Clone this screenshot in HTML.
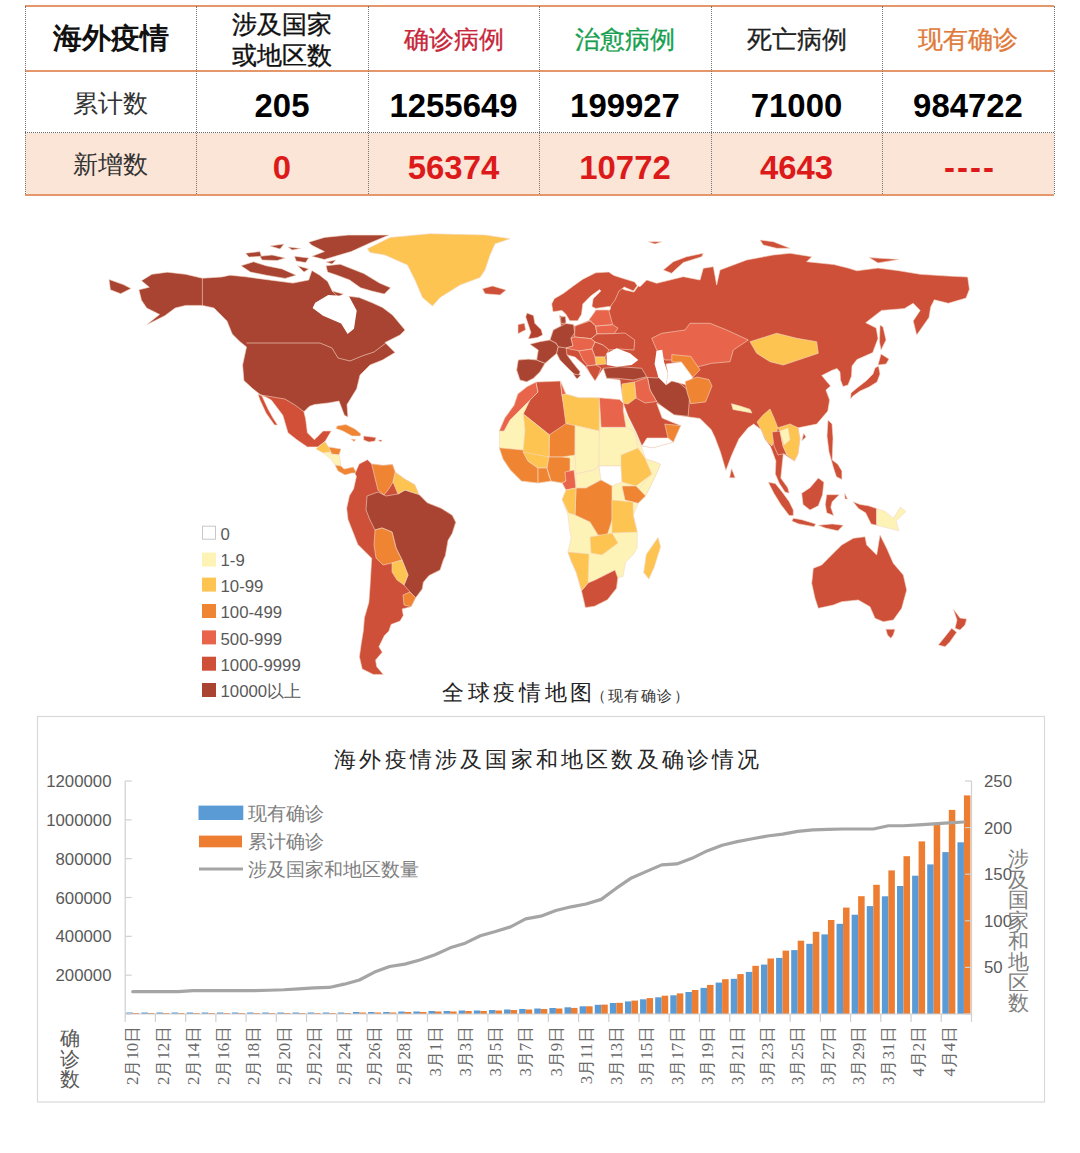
<!DOCTYPE html>
<html><head><meta charset="utf-8">
<style>
html,body{margin:0;padding:0;background:#fff;width:1080px;height:1153px;overflow:hidden;position:relative;font-family:"Liberation Sans",sans-serif;}
.a{position:absolute;}
.t{position:absolute;text-align:center;white-space:nowrap;line-height:1;}
.hl{position:absolute;left:25px;width:1029px;height:2px;background:#E3976B;}
.vl{position:absolute;top:6px;height:188px;width:0;border-left:1px dotted #777;}
.num{font-weight:bold;font-size:32.9px;}
.lab{font-size:24px;color:#333;}
</style></head><body>
<!-- TABLE -->
<div class="a" style="left:25px;top:133px;width:1029px;height:61px;background:#FBE5D7"></div>
<div class="hl" style="top:5px"></div>
<div class="hl" style="top:70px"></div>
<div class="hl" style="top:194px"></div>
<div class="a" style="left:25px;top:132px;width:1029px;height:0;border-top:1px dotted #666"></div>
<div class="vl" style="left:25px"></div>
<div class="vl" style="left:196px"></div>
<div class="vl" style="left:368px"></div>
<div class="vl" style="left:539px"></div>
<div class="vl" style="left:711px"></div>
<div class="vl" style="left:882px"></div>
<div class="vl" style="left:1054px"></div>

<div class="t" style="left:25px;width:171px;top:24px;font-size:29px;font-weight:bold;color:#111">海外疫情</div>
<div class="t" style="left:196px;width:172px;top:9px;font-size:24.5px;line-height:31px;color:#111;-webkit-text-stroke:0.35px #111">涉及国家<br>或地区数</div>
<div class="t" style="left:368px;width:171px;top:27.5px;font-size:24.5px;-webkit-text-stroke:0.3px currentColor;color:#C8263A">确诊病例</div>
<div class="t" style="left:539px;width:172px;top:27.5px;font-size:24.5px;-webkit-text-stroke:0.3px currentColor;color:#18A050">治愈病例</div>
<div class="t" style="left:711px;width:171px;top:27.5px;font-size:24.5px;-webkit-text-stroke:0.3px currentColor;color:#222">死亡病例</div>
<div class="t" style="left:882px;width:172px;top:27.5px;font-size:24.5px;-webkit-text-stroke:0.3px currentColor;color:#E07A3A">现有确诊</div>

<div class="t lab" style="left:25px;width:171px;top:90.5px;font-size:25px">累计数</div>
<div class="t lab" style="left:25px;width:171px;top:152px;font-size:25px">新增数</div>
<div class="t num" style="left:196px;width:172px;top:89.5px">205</div>
<div class="t num" style="left:368px;width:171px;top:89.5px">1255649</div>
<div class="t num" style="left:539px;width:172px;top:89.5px">199927</div>
<div class="t num" style="left:711px;width:171px;top:89.5px">71000</div>
<div class="t num" style="left:882px;width:172px;top:89.5px">984722</div>
<div class="t num" style="left:196px;width:172px;top:151.5px;color:#DD1A1A">0</div>
<div class="t num" style="left:368px;width:171px;top:151.5px;color:#DD1A1A">56374</div>
<div class="t num" style="left:539px;width:172px;top:151.5px;color:#DD1A1A">10772</div>
<div class="t num" style="left:711px;width:171px;top:151.5px;color:#DD1A1A">4643</div>
<div class="t num" style="left:882px;width:172px;top:151.5px;color:#DD1A1A;letter-spacing:2px;padding-left:2px">----</div>


<svg class="a" style="left:0;top:0" width="1080" height="1153" viewBox="0 0 1080 1153">
<g id="map" stroke="#F3D9C8" stroke-width="0.6" stroke-linejoin="round">
<!-- North America -->
<path fill="#A84431" d="M141.5,280.7 L151.9,274.3 L167.4,272.2 L185.6,274.3 L202.4,278.2 L221.9,276.9 L230,275.2 L245.7,276.8 L269.4,280 L293,283.1 L308.7,280 L311.9,270.5 L319.7,275.2 L327.6,281.5 L332.3,291 L340.2,297.3 L349,296.3 L359.3,297.6 L372.2,302.8 L382.5,307.5 L392.5,315 L405,330 L400,335 L385,342.5 L395,352.5 L382.5,360 L370,365 L360,375 L356.7,388.8 L347,404.6 L347.9,417 L344.4,415.2 L339,401.1 L328.5,402.9 L314.4,404.6 L309.2,406.4 L303.9,411.7 L260.8,395 L252.9,388.8 L243.9,380.6 L242.6,365 L246.5,346.9 L240,341.7 L232.2,333.9 L227,321 L214,308 L202.4,305.4 L185.6,305.4 L175.2,308 L164.8,315.7 L146.7,324.8 L159.6,314.4 L146.7,308 L141.5,300.2 L138.9,289.8 L149.3,287.2 Z"/>
<path fill="#A84431" d="M109,279.4 L123.3,284.6 L131,288.5 L120.7,293.7 L110.4,289.8 Z"/>
<path fill="#A84431" d="M241,265.8 L253.6,261.8 L266.2,265.8 L282,268.9 L296.1,275.2 L285.1,278.4 L266.2,275.2 L250.5,272.1 Z"/>
<path fill="#A84431" d="M245.7,253.2 L259.9,251.6 L261.5,256.3 L248.9,257.1 Z"/>
<path fill="#A84431" d="M259.9,256.3 L272,255 L285.1,257.9 L277.2,260.5 L262,260 Z"/>
<path fill="#A84431" d="M288.2,246.9 L300.8,248.5 L292,250 Z"/>
<path fill="#A84431" d="M294.5,256.3 L308.7,257.9 L305.6,262.6 L296.1,261 Z"/>
<path fill="#A84431" d="M297.7,265.8 L308.7,268.9 L304,272.1 Z"/>
<path fill="#A84431" d="M308.7,242.2 L324.4,237.4 L348.1,235.1 L389,235.1 L371.7,242.2 L351.2,251.6 L340.2,254.8 L324.4,259.5 L311.9,256.3 L324.4,251.6 L311.9,245.3 Z"/>
<path fill="#A84431" d="M326,265.8 L340.2,264.2 L363.8,273.6 L379.5,283.1 L390.6,287.8 L384.3,294.1 L371.7,291 L360.6,287.8 L349.6,279.9 L337,275.2 L327.6,272.1 Z"/>
<path fill="#A84431" d="M332.3,291 L343.3,294.1 L338,297 Z"/>
<path fill="#A84431" d="M270,246 L284,244 L280,249 Z"/>
<path fill="#A84431" d="M326,262 L336,260 L332,264 Z"/>
<path fill="none" stroke="#E6B9A6" stroke-width="0.8" d="M202.4,278 L202.4,305 M246.5,343 L320,343 L332,348 L338,358 L350,361 L362,356 L374,352 L386,343"/>
<path fill="#fff" stroke="none" d="M315.2,302.8 L328.2,295 L349,296.3 L356.7,310.6 L354,328.7 L347.6,333.9 L341.1,323.5 L323,315.7 L312.6,308 Z"/>
<!-- Mexico & Central America -->
<path fill="#D25038" d="M260.8,395 L285,399 L295,405 L303.9,411.7 L305.6,418.7 L307.4,432.8 L314.4,439.8 L323.2,431 L331.2,431 L325,441.6 L318,446.9 L307.4,446.9 L296.9,439.8 L288,432.8 L282.8,415.2 L271.3,400 L266,397 Z"/>
<path fill="#D25038" d="M262,396 L268,409 L273,418 L277.5,424.9 L274.5,425 L266,413 L260,400 L258,394 Z"/>
<path fill="#FDC451" d="M318,446.9 L325,441.6 L328.5,446.9 L331,452 L323.2,453 L316,449 Z"/>
<path fill="#EF8532" d="M328.5,446.9 L341,449 L339,455 L331,454 L331,452 Z"/>
<path fill="#FEF3B6" d="M331,452 L331,454 L339,455 L340,459 L341,466 L335,465 L331,459.2 L323.2,453 Z"/>
<path fill="#EF8532" d="M335,465 L341,466 L344,469 L353.2,467 L356.7,473 L352,473 L345,475 L338,471 Z"/>
<path fill="#EF8532" d="M337,426 L346,424.5 L355,429 L361,434 L360,436 L352,436 L343,431 L336,428.5 Z"/>
<path fill="#CF5038" d="M363.7,436 L376,437.5 L375,441 L369,442 L363.7,440 Z"/>
<path fill="#EF8532" d="M351,439 L356,439.5 L354,441.5 Z"/>
<path fill="#CF5038" d="M378,440 L382,440 L381,442 Z"/>
<!-- South America -->
<path fill="#CF5038" d="M355,473.6 L359.2,463.9 L367.5,459.7 L371.7,463.9 L382.8,465.3 L392.5,464.6 L395.3,472.2 L405,479.2 L414.7,484.7 L418.9,494.4 L427.2,502.8 L441.1,508.3 L452.2,515.3 L455.7,522.2 L452.2,533.3 L448,540.3 L445.3,555.6 L443.3,560 L440,570 L428.9,575.6 L423.3,582.2 L422.2,588.9 L415.6,597.8 L411.1,606.7 L402.2,608.9 L403.3,615.6 L400,621.1 L391.1,624.4 L388.9,631.1 L384.4,635.6 L378.9,646.7 L382.2,652.2 L375.6,660 L376.7,666.7 L383.3,674.4 L373.3,674.4 L362.2,668.9 L359.4,656.7 L361.1,644.4 L363.3,631.1 L364.4,617.8 L368.9,602.2 L370,586.7 L371.7,558.3 L357.8,544.4 L348,519.4 L346.7,508.3 L349.4,495.8 L353.6,488.9 L356.4,476.4 Z"/>
<path fill="#A84431" d="M367,496 L378,492 L386,496 L398,494 L405,490 L418.9,494.4 L427.2,502.8 L441.1,508.3 L452.2,515.3 L455.7,522.2 L452.2,533.3 L448,540.3 L445.3,555.6 L443.3,560 L440,570 L428.9,575.6 L423.3,582.2 L422.2,588.9 L415.6,597.8 L410,592 L404,585 L408,575 L402,560 L396,548 L392,532 L382,528 L375,530 L370,520 L366,510 Z"/>
<path fill="#EF8532" d="M371.7,463.9 L382.8,465.3 L392.5,464.6 L395.3,472.2 L393,482 L388,490 L384,495 L378,490 L375,478 Z"/>
<path fill="#FDC451" d="M395.3,472.2 L405,479.2 L414.7,484.7 L418.9,494.4 L405,490 L398,494 L393,482 Z"/>
<path fill="#EF8532" d="M375,530 L382,528 L392,532 L396,548 L402,560 L392,563 L383,565 L376,558 L374,545 Z"/>
<path fill="#FDC451" d="M392,563 L402,560 L408,575 L404,585 L397,580 L392,572 Z"/>
<path fill="#EF8532" d="M403,595 L410,592 L415.6,597.8 L411.1,606.7 L404,605 Z"/>
<!-- Eurasia -->
<path fill="#CF5038" d="M516.7,370 L518.3,360 L528.3,359.2 L536.7,360 L538.3,350 L530,344.2 L540,341.7 L550,340 L553.3,330 L561,326 L559.4,315.6 L564.6,316.9 L565.9,324.6 L575,326 L590,320 L589.3,319.4 L593.2,314.3 L596,310 L610,310 L613,295 L619,287 L625,290 L634,292 L638.3,286 L640,286.7 L646.7,280 L656.7,283.3 L670,280 L683.3,276.7 L700,280 L703.3,268.3 L713.3,266.7 L716.7,285 L720,270 L733.3,265 L746.7,260 L773.3,255 L790,253.3 L811.7,256.7 L806.7,261.7 L834,264.6 L848,268.1 L856.9,270.8 L878,268.1 L899.1,270.8 L920.2,274.3 L948.3,276.1 L967.7,277 L969.4,289.3 L966,298.1 L948.3,303.3 L934.3,299.8 L930.7,306.9 L929,317.4 L916.7,335 L913.2,320.9 L920.2,310.4 L913.2,303.3 L904.4,308.6 L881.5,310.4 L865.7,322.7 L876.2,328 L878,338.5 L872.7,352.6 L856.9,359.6 L852,366 L851.5,376 L848,385 L843,386.5 L840.5,380 L840,372 L837,368.5 L832.2,370.2 L821.7,375.5 L830.5,386 L825.9,390 L829.6,400 L827.8,411.1 L816.7,424.1 L798.1,427.8 L800,438.9 L798.1,453.7 L794.4,461.1 L783.3,453.7 L780.8,478 L787.8,487.8 L789.2,493.3 L785,492 L779.4,483.6 L775.3,473.9 L775.9,461.1 L770.4,446.3 L764.8,438.9 L761.1,429.6 L753.7,424.1 L748.1,427.8 L738.9,438.9 L731.5,455.6 L725.9,470.4 L720.4,451.9 L714.8,437 L711.1,429.6 L705.6,424.1 L700,418.5 L687,416.7 L674.1,414.8 L661.1,405.6 L656.7,403.3 L662.2,418.1 L671.5,421.9 L680.7,425.6 L673.3,442.2 L653,447.8 L641.9,445.9 L636,432 L628,416 L623.3,403.3 L622,394 L620,380 L606.7,378.3 L603.3,368.3 L600,373.3 L595,380 L590,373.3 L585,366 L575,357 L567,355 L573,363 L580,371.7 L578.3,376.7 L573.3,373.3 L566.7,366.7 L560,360 L556.7,353.3 L545,363.3 L540,371.7 L533.3,378.3 L526.7,381.7 L520,380 Z"/>
<path fill="#CF5038" d="M551.7,303.9 L554.3,298.7 L563.3,293.5 L573.7,285.7 L582.8,279.3 L595.7,272.8 L608.7,272.1 L613.9,275.4 L621.7,278 L634.6,281.9 L637.2,285.7 L633.3,290.9 L624.3,287 L619,291 L615,300 L610,307 L608.7,306.5 L595.7,308.4 L591.9,306.5 L593.2,298.7 L600.9,290.9 L599.6,289.6 L590.6,296.1 L582.8,303.9 L581.5,314.3 L577.6,320.7 L569.8,320.7 L565.9,314.3 L562,310.4 L553,311.7 Z"/>
<path fill="#A84431" d="M516.7,370 L518.3,360 L528.3,359.2 L536.7,360 L545,363.3 L540,371.7 L533.3,378.3 L526.7,381.7 L520,380 Z"/>
<path fill="#A84431" d="M536.7,360 L538.3,350 L530,344.2 L540,341.7 L550,340 L556,343 L558.3,346.7 L556.7,353.3 L545,363.3 Z"/>
<path fill="#A84431" d="M556.7,353.3 L558.3,346.7 L566,347 L567,355 L573,363 L580,371.7 L578.3,376.7 L573.3,373.3 L566.7,366.7 L560,360 Z"/>
<path fill="#A84431" d="M553.3,330 L561,326 L566,323.5 L573.6,324.4 L574.6,333 L571,338 L573,346 L566,348 L558.3,346.7 L556,343 L550,340 Z"/>
<path fill="#CF5038" d="M575,326 L590,321 L595.7,326 L597,334 L591,338.7 L574.6,337 L574.6,333 Z"/>
<path fill="#E8644A" d="M595.7,326 L612.6,324.6 L618,328 L614,334 L597,334 Z"/>
<path fill="#E8644A" d="M593.2,314.3 L596,310 L608.7,310 L612.6,324.6 L595.7,326 L589.3,319.4 Z"/>
<path fill="#CF5038" d="M597,334 L613,333.6 L625,333 L634.7,340 L634,350 L620,349 L609,350 L603,345 L595,342 L591,338.7 Z"/>
<path fill="#E8644A" d="M571,338 L574.6,337 L591,338.7 L595,342 L592,349 L580,351 L569.5,349 L566,348 L573,346 Z"/>
<path fill="#CF5038" d="M595,342 L603,345 L609,350 L605,357 L595,357 L592,349 Z"/>
<path fill="#FDC451" d="M595,357 L605,357 L606,364 L596,365 Z"/>
<path fill="#E8644A" d="M578.7,351 L592,349 L595,357 L596,365 L588,366 L583,360 Z"/>
<path fill="#CF5038" d="M586,366 L596,365 L601,368 L598,376 L595,381 L590,373.3 Z"/>
<path fill="#A84431" d="M560.5,317 L565.5,316.5 L566,323 L561,323.5 Z"/>
<path fill="#A84431" d="M573,374 L581,375 L577,379 Z"/>
<path fill="#A84431" d="M603.3,368.3 L620,366.7 L641.7,368.3 L646.7,376.7 L633.3,380 L616.7,378.3 L606.7,378.3 Z"/>
<path fill="#A84431" d="M647.4,377.4 L657,378 L665,376 L675.2,379.3 L690,392.2 L688.1,416.3 L674.1,414.8 L661.1,405.6 L656.7,401.5 L650,390 Z"/>
<path fill="#E8644A" d="M634.4,382 L647.4,377.4 L650,390 L656.7,401.5 L645,403 L636,398 Z"/>
<path fill="#FDC451" d="M622,394 L622,384 L634.4,382 L636,398 L628,404 L623.3,403.3 Z"/>
<path fill="#EF8532" d="M664.8,424.1 L680.7,425.6 L673.3,442.2 L668,438 Z"/>
<path fill="#FFFFFF" d="M641.9,445.9 L647,438 L668,438 L673.3,442.2 L653,447.8 Z"/>
<path fill="#E8644A" d="M651.7,338.3 L661.7,333.3 L685,330 L690,323.3 L710,323.3 L726.7,330 L748.3,340 L733.3,350 L730,361.7 L711.7,363.3 L698.3,366.7 L680,360 L665,360 L656.7,350 Z"/>
<path fill="#EF8532" d="M671.8,354.5 L690.8,356.4 L700,369.8 L692.7,377.4 L681.3,362 L671.8,362 Z"/>
<path fill="#fff" stroke="none" d="M606.7,353.3 L616.7,348.3 L630,353.3 L638.3,360 L631.7,365 L616.7,366.7 L606.7,365 Z"/>
<path fill="#fff" stroke="none" d="M656.5,350.7 L662.2,349.7 L664.1,362 L668,373.6 L666,385 L658.4,377.4 L654.6,364 Z"/>
<path fill="#FFFFFF" d="M666,364 L681.3,362 L692.7,377.4 L687,385 L671.8,381 L666,385 L668,373.6 Z"/>
<path fill="#FDC451" d="M750,341.7 L776.7,333.3 L796.7,338.3 L816.7,341.7 L818.3,353.3 L798.3,360 L783.3,365 L770,361.7 L756.7,353.3 Z"/>
<path fill="#EF8532" d="M685,381.5 L697,377 L709,379.6 L712,386 L705.6,401.9 L690.7,403.7 L687,392 Z"/>
<path fill="#FEF3B6" d="M731.5,403.7 L740,406 L750,409.3 L752,413 L733,409.5 Z"/>
<path fill="#FDC451" d="M757,422 L763,415 L770,409 L774,418 L777.8,427.8 L772,446 L766,440 L761.1,429.6 Z"/>
<path fill="#CF5038" d="M772,432 L780,431 L783,446 L787,455 L783.3,453.7 L778,455 L774,446 Z"/>
<path fill="#FDC451" d="M777.8,427.8 L790,424 L798.1,427.8 L800,438.9 L798.1,453.7 L794.4,461.1 L787,455 L783,446 L780,431 Z"/>
<path fill="#FEF3B6" d="M780,431 L788,428 L790,440 L784,445 Z"/>
<path fill="#CF5038" d="M803.7,433.3 L806,437 L801.9,440.7 Z"/>
<path fill="#CF5038" d="M881,354 L889,359 L886,364 L878,365 Z M878.5,366 L880,374 L877,382 L869,387 L860,391 L853,396 L850.5,399 L851,393 L857,388 L866,381 L873,374 L875,368 Z"/>
<path fill="#CF5038" d="M880,325 L883,327 L886,340 L881,350 L879.5,342 Z"/>
<path fill="#CF5038" d="M663.3,270 L673.3,261.7 L686.7,256.7 L703.3,253.3 L701.7,256.7 L683.3,262.5 L675,270 L671.7,273.3 Z"/>
<path fill="#CF5038" d="M760,240 L773.3,241.7 L781.7,245 L790,248.3 L776.7,248.3 L763.3,245 Z"/>
<path fill="#CF5038" d="M869.2,257.6 L899.1,259.4 L878,262.9 Z"/>
<path fill="#CF5038" d="M648.3,241.7 L661.7,241.7 L655,244 Z"/>
<path fill="#CF5038" d="M731.5,468.5 L735.2,477.8 L729.6,477.8 Z"/>
<path fill="#CF5038" d="M828,420 L832,424 L833,438 L832.2,460 L837.8,464.2 L841.9,471.1 L841.9,479.4 L836.4,476.7 L833.6,468.3 L829,452 L827,436 Z"/>
<!-- UK Ireland -->
<path fill="#B4412D" d="M527,313 L533.5,315.6 L534.8,323.3 L541.3,329.8 L542.6,335 L537.4,337.6 L528.3,338.9 L530.9,332.4 L528.3,324.6 L525.7,316.9 Z"/>
<path fill="#CF5038" d="M518,324.6 L524.4,323.3 L525.7,329.8 L518,333.7 Z"/>
<!-- Africa -->
<path fill="#FEF3B6" d="M517.8,394.1 L527,386.7 L538.1,383 L560.4,381.1 L565.9,394.1 L578.9,397.8 L593.7,397.8 L601.1,399.6 L619.6,399.6 L623.3,403.3 L623.3,410.7 L634.4,431.1 L641.9,447.8 L645.6,458.9 L656.7,462.6 L660.4,464.4 L653,481.1 L645.6,495.9 L638.1,503.3 L633.3,515.6 L637.2,532.4 L637.2,548 L633.3,554.4 L625.6,562.2 L623,576.5 L617.8,577.8 L616.5,588.2 L607.4,599.8 L594.4,606.3 L585.4,607.6 L581.5,590.7 L576.3,572.6 L571.1,560.9 L567.9,551.9 L571.1,537.6 L569.6,529.3 L567.8,514.4 L562.2,499.6 L565.9,490.4 L562.2,483 L551.1,481.1 L538.1,483 L521.5,481.1 L510.4,470 L503,458.9 L499.3,447.8 L499.3,431.1 L504.8,418.1 L514.1,405.2 Z"/>
<path fill="#E8644A" d="M517.8,394.1 L527,386.7 L536,382 L538,392 L530,400 L520,410 L510,420 L504,431 L499.3,431.1 L504.8,418.1 L514.1,405.2 Z"/>
<path fill="#CF5038" d="M536,382 L560.4,381.1 L562,395 L565,410 L576,421 L560,436 L549.3,434.8 L523.3,414 L530,400 L538,392 Z"/>
<path fill="#E8644A" d="M560.4,381.1 L565.9,394.1 L562,395 Z"/>
<path fill="#FDC451" d="M565.9,394.1 L578.9,397.8 L593.7,397.8 L599.3,397.8 L599.3,431.1 L575.2,425.6 L565.9,423.7 L562,395 Z"/>
<path fill="#E8644A" d="M599.3,397.8 L619.6,399.6 L623.3,403.3 L623.3,410.7 L626,427.4 L601.1,427.4 Z"/>
<path fill="#EF8532" d="M549.3,434.8 L565.9,423.7 L575.2,425.6 L575,455 L562,457 L549,457 Z"/>
<path fill="#FDC451" d="M523.3,414 L549.3,434.8 L549,457 L538,460 L528,461 L523,452 L525,430 Z"/>
<path fill="#EF8532" d="M499.3,447.8 L523,450 L528,461 L538,468 L538.1,483 L521.5,481.1 L510.4,470 L503,458.9 Z"/>
<path fill="#FDC451" d="M523,452 L549,457 L547,468 L538,468 L528,461 Z"/>
<path fill="#EF8532" d="M538,468 L547,468 L549,476 L551.1,481.1 L538.1,483 Z"/>
<path fill="#EF8532" d="M549,457 L562,457 L570,458 L570,470 L565.9,481 L562.2,483 L551.1,481.1 L547,468 Z"/>
<path fill="#E8644A" d="M565,472 L574,470 L576,488 L566,490 L562.2,483 L565.9,481 Z"/>
<path fill="#FEF3B6" d="M575,455 L575.2,425.6 L599.3,431.1 L599,466 L594,470 L576,474 Z"/>
<path fill="#FEF3B6" d="M599.3,431.1 L601.1,427.4 L626,427.4 L634.4,431.1 L638,448 L630,458 L621,466 L599,466 Z"/>
<path fill="#FEF3B6" d="M576,474 L594,470 L599,466 L601,480 L586,488 L576,488 Z"/>
<path fill="#FFFFFF" d="M599,466 L621,466 L622,482 L612,486 L601,480 Z"/>
<path fill="#FDC451" d="M621,455 L638,448 L645.6,458.9 L652,474 L636,486 L622,482 L621,466 Z"/>
<path fill="#FEF3B6" d="M645.6,458.9 L656.7,462.6 L660.4,464.4 L653,481.1 L645.6,495.9 L638,490 L652,474 Z"/>
<path fill="#EF8532" d="M622,486 L636,486 L645.6,495.9 L638.1,503.3 L625,500 Z"/>
<path fill="#EF8532" d="M576,488 L586,488 L601,480 L612,486 L612,520 L607,536 L598,535 L590,522 L575,515 Z"/>
<path fill="#FDC451" d="M566,490 L576,488 L575,515 L568.5,513 L562.2,499.6 Z"/>
<path fill="#FDC451" d="M612,500 L633,502 L633.3,515.6 L637.2,532 L612,533 Z"/>
<path fill="#FDC451" d="M590,537 L612,533 L618,543 L602,555 L591,553 Z"/>
<path fill="#CF5038" d="M581.5,590.7 L588,583 L595,580 L607,574 L615,570 L617.8,577.8 L616.5,588.2 L607.4,599.8 L594.4,606.3 L585.4,607.6 Z"/>
<path fill="#FDC451" d="M567.9,551.9 L589,554 L588,583 L581.5,590.7 L576.3,572.6 L571.1,560.9 Z"/>
<path fill="#FDC451" d="M658,537.6 L660.6,546.7 L654.1,567.4 L648.9,579.1 L643.7,572.6 L646.3,554.4 Z"/>
<!-- Indonesia / Oceania -->
<path fill="#CF5038" d="M768.3,482.2 L775.3,483.6 L782.2,492 L789.2,501.7 L793.3,510 L793.3,515.6 L789.2,515.6 L780.8,504.4 L773.9,493.3 Z"/>
<path fill="#CF5038" d="M793.3,518.3 L801.7,519.7 L815.6,523.9 L814.2,526.7 L798.9,523.9 L791.9,521.1 Z"/>
<path fill="#CF5038" d="M818.3,525.3 L832.2,523.9 L843.3,525.3 L837.8,530.8 L825.3,528 Z"/>
<path fill="#CF5038" d="M801.7,493.3 L810,487.8 L818.3,478 L823.9,482.2 L822.5,494.7 L818.3,505.8 L810,510 L803,504.4 Z"/>
<path fill="#CF5038" d="M826.7,494.7 L839.2,494.7 L832.2,501.7 L830.8,507.2 L833.6,515.6 L826.7,512.8 L825.3,504.4 Z"/>
<path fill="#CF5038" d="M844.7,493.3 L847.5,498.9 L845,499 Z"/>
<path fill="#CF5038" d="M853,501.7 L860,504.4 L868.3,505.8 L876.7,508.6 L876.7,525.3 L871.1,523.9 L865.6,512.8 L858.6,508.6 Z"/>
<path fill="#FEF3B6" d="M876.7,508.6 L885,511.4 L893.3,518.3 L900.3,507.2 L905.8,511.4 L896.1,521.1 L898.9,530.8 L887.8,528 L876.7,525.3 Z"/>
<path fill="#CF5038" d="M813.3,568.3 L821.7,565 L833.3,553.3 L841.7,545 L853.3,538.3 L865,536.7 L866.7,545 L876.7,555 L880,535 L886.7,548.3 L893.3,563.3 L903.3,575 L906.7,590 L901.7,608.3 L893.3,620 L883.3,621.7 L875,618.3 L870,606.7 L858.3,600 L841.7,601.7 L833.3,605 L818.3,608.3 L815,598.3 L811.7,583.3 Z"/>
<path fill="#CF5038" d="M885.8,629.2 L895,629.2 L893.3,635 L890.8,638.3 L887.5,635 Z"/>
<path fill="#CF5038" d="M953.3,609 L960,618 L966.7,619 L965,625 L960,630 L955,628.3 L957,620 Z"/>
<path fill="#CF5038" d="M951.7,628.3 L956.7,632.3 L950,641.7 L945,646.7 L938.3,645 L945,636.7 Z"/>
<!-- Greenland, Iceland -->
<path fill="#FDC451" d="M367.5,248.75 L390,237.5 L430,233.75 L485,235 L510,238.75 L495,243.75 L490,255 L485,270 L480,277.5 L460,285 L440,297.5 L432.5,306 L422.5,297.5 L415,280 L407.5,265 L385,255 L370,252.5 Z"/>
<path fill="#CF5038" d="M482.5,288.75 L492.5,286 L506,290 L500,295 L485,293.75 Z"/>
</g>
<!-- Legend -->
<g font-family="Liberation Sans, sans-serif" font-size="16.8" fill="#595959">
<rect x="202.5" y="526.2" width="13" height="13" fill="#fff" stroke="#C8C8C8" stroke-width="1"/>
<rect x="202" y="552.6" width="14" height="14" fill="#FEF3B6"/>
<rect x="202" y="577.6" width="14" height="14" fill="#FDC451"/>
<rect x="202" y="604" width="14" height="14" fill="#EF8532"/>
<rect x="202" y="630.4" width="14" height="14" fill="#E8644A"/>
<rect x="202" y="656.7" width="14" height="14" fill="#CF5038"/>
<rect x="202" y="683" width="14" height="14" fill="#A84431"/>
<text x="220.5" y="538.6" dy="1">0</text>
<text x="220.5" y="565" dy="1">1-9</text>
<text x="220.5" y="591.2" dy="1">10-99</text>
<text x="220.5" y="617.4" dy="1">100-499</text>
<text x="220.5" y="643.6" dy="1">500-999</text>
<text x="220.5" y="669.8" dy="1">1000-9999</text>
<text x="220.5" y="696" dy="1">10000以上</text>
</g>
<text x="442" y="700" font-family="Liberation Serif, serif" font-size="21.5" letter-spacing="3.7" fill="#222">全球疫情地图</text>
<text x="591" y="701" font-family="Liberation Serif, serif" font-size="14.5" letter-spacing="1.6" fill="#333">（现有确诊）</text>

<rect x="37.5" y="716.5" width="1007" height="385.5" fill="#fff" stroke="#D9D9D9" stroke-width="1.2"/>
<rect x="126.25" y="1012.50" width="6.50" height="1.50" fill="#5B9BD5"/>
<rect x="132.75" y="1013.00" width="6.50" height="1.00" fill="#ED7D31"/>
<rect x="141.36" y="1012.50" width="6.50" height="1.50" fill="#5B9BD5"/>
<rect x="147.86" y="1013.00" width="6.50" height="1.00" fill="#ED7D31"/>
<rect x="156.48" y="1012.50" width="6.50" height="1.50" fill="#5B9BD5"/>
<rect x="162.98" y="1013.00" width="6.50" height="1.00" fill="#ED7D31"/>
<rect x="171.59" y="1012.50" width="6.50" height="1.50" fill="#5B9BD5"/>
<rect x="178.09" y="1013.00" width="6.50" height="1.00" fill="#ED7D31"/>
<rect x="186.70" y="1012.50" width="6.50" height="1.50" fill="#5B9BD5"/>
<rect x="193.20" y="1013.00" width="6.50" height="1.00" fill="#ED7D31"/>
<rect x="201.81" y="1012.50" width="6.50" height="1.50" fill="#5B9BD5"/>
<rect x="208.31" y="1013.00" width="6.50" height="1.00" fill="#ED7D31"/>
<rect x="216.93" y="1012.50" width="6.50" height="1.50" fill="#5B9BD5"/>
<rect x="223.43" y="1013.00" width="6.50" height="1.00" fill="#ED7D31"/>
<rect x="232.04" y="1012.50" width="6.50" height="1.50" fill="#5B9BD5"/>
<rect x="238.54" y="1013.00" width="6.50" height="1.00" fill="#ED7D31"/>
<rect x="247.15" y="1012.50" width="6.50" height="1.50" fill="#5B9BD5"/>
<rect x="253.65" y="1013.00" width="6.50" height="1.00" fill="#ED7D31"/>
<rect x="262.26" y="1012.50" width="6.50" height="1.50" fill="#5B9BD5"/>
<rect x="268.76" y="1013.00" width="6.50" height="1.00" fill="#ED7D31"/>
<rect x="277.38" y="1012.50" width="6.50" height="1.50" fill="#5B9BD5"/>
<rect x="283.88" y="1013.00" width="6.50" height="1.00" fill="#ED7D31"/>
<rect x="292.49" y="1012.50" width="6.50" height="1.50" fill="#5B9BD5"/>
<rect x="298.99" y="1013.00" width="6.50" height="1.00" fill="#ED7D31"/>
<rect x="307.60" y="1012.50" width="6.50" height="1.50" fill="#5B9BD5"/>
<rect x="314.10" y="1013.00" width="6.50" height="1.00" fill="#ED7D31"/>
<rect x="322.71" y="1012.50" width="6.50" height="1.50" fill="#5B9BD5"/>
<rect x="329.21" y="1013.00" width="6.50" height="1.00" fill="#ED7D31"/>
<rect x="337.82" y="1012.50" width="6.50" height="1.50" fill="#5B9BD5"/>
<rect x="344.32" y="1013.00" width="6.50" height="1.00" fill="#ED7D31"/>
<rect x="352.94" y="1012.00" width="6.50" height="2.00" fill="#5B9BD5"/>
<rect x="359.44" y="1012.50" width="6.50" height="1.50" fill="#ED7D31"/>
<rect x="368.05" y="1012.00" width="6.50" height="2.00" fill="#5B9BD5"/>
<rect x="374.55" y="1012.50" width="6.50" height="1.50" fill="#ED7D31"/>
<rect x="383.16" y="1012.00" width="6.50" height="2.00" fill="#5B9BD5"/>
<rect x="389.66" y="1012.50" width="6.50" height="1.50" fill="#ED7D31"/>
<rect x="398.27" y="1011.50" width="6.50" height="2.50" fill="#5B9BD5"/>
<rect x="404.77" y="1012.00" width="6.50" height="2.00" fill="#ED7D31"/>
<rect x="413.39" y="1011.50" width="6.50" height="2.50" fill="#5B9BD5"/>
<rect x="419.89" y="1012.00" width="6.50" height="2.00" fill="#ED7D31"/>
<rect x="428.50" y="1011.00" width="6.50" height="3.00" fill="#5B9BD5"/>
<rect x="435.00" y="1011.50" width="6.50" height="2.50" fill="#ED7D31"/>
<rect x="443.61" y="1011.00" width="6.50" height="3.00" fill="#5B9BD5"/>
<rect x="450.11" y="1011.50" width="6.50" height="2.50" fill="#ED7D31"/>
<rect x="458.72" y="1010.50" width="6.50" height="3.50" fill="#5B9BD5"/>
<rect x="465.22" y="1011.00" width="6.50" height="3.00" fill="#ED7D31"/>
<rect x="473.84" y="1010.50" width="6.50" height="3.50" fill="#5B9BD5"/>
<rect x="480.34" y="1011.00" width="6.50" height="3.00" fill="#ED7D31"/>
<rect x="488.95" y="1010.00" width="6.50" height="4.00" fill="#5B9BD5"/>
<rect x="495.45" y="1010.50" width="6.50" height="3.50" fill="#ED7D31"/>
<rect x="504.06" y="1009.50" width="6.50" height="4.50" fill="#5B9BD5"/>
<rect x="510.56" y="1010.00" width="6.50" height="4.00" fill="#ED7D31"/>
<rect x="519.17" y="1009.00" width="6.50" height="5.00" fill="#5B9BD5"/>
<rect x="525.67" y="1009.50" width="6.50" height="4.50" fill="#ED7D31"/>
<rect x="534.29" y="1008.50" width="6.50" height="5.50" fill="#5B9BD5"/>
<rect x="540.79" y="1009.00" width="6.50" height="5.00" fill="#ED7D31"/>
<rect x="549.40" y="1008.00" width="6.50" height="6.00" fill="#5B9BD5"/>
<rect x="555.90" y="1008.50" width="6.50" height="5.50" fill="#ED7D31"/>
<rect x="564.51" y="1007.30" width="6.50" height="6.70" fill="#5B9BD5"/>
<rect x="571.01" y="1007.90" width="6.50" height="6.10" fill="#ED7D31"/>
<rect x="579.62" y="1006.30" width="6.50" height="7.70" fill="#5B9BD5"/>
<rect x="586.12" y="1006.30" width="6.50" height="7.70" fill="#ED7D31"/>
<rect x="594.74" y="1004.80" width="6.50" height="9.20" fill="#5B9BD5"/>
<rect x="601.24" y="1004.60" width="6.50" height="9.40" fill="#ED7D31"/>
<rect x="609.85" y="1003.00" width="6.50" height="11.00" fill="#5B9BD5"/>
<rect x="616.35" y="1002.80" width="6.50" height="11.20" fill="#ED7D31"/>
<rect x="624.96" y="1001.40" width="6.50" height="12.60" fill="#5B9BD5"/>
<rect x="631.46" y="1000.60" width="6.50" height="13.40" fill="#ED7D31"/>
<rect x="640.07" y="999.30" width="6.50" height="14.70" fill="#5B9BD5"/>
<rect x="646.57" y="998.10" width="6.50" height="15.90" fill="#ED7D31"/>
<rect x="655.19" y="997.30" width="6.50" height="16.70" fill="#5B9BD5"/>
<rect x="661.69" y="995.70" width="6.50" height="18.30" fill="#ED7D31"/>
<rect x="670.30" y="995.30" width="6.50" height="18.70" fill="#5B9BD5"/>
<rect x="676.80" y="993.40" width="6.50" height="20.60" fill="#ED7D31"/>
<rect x="685.41" y="992.00" width="6.50" height="22.00" fill="#5B9BD5"/>
<rect x="691.91" y="990.00" width="6.50" height="24.00" fill="#ED7D31"/>
<rect x="700.52" y="987.90" width="6.50" height="26.10" fill="#5B9BD5"/>
<rect x="707.02" y="984.90" width="6.50" height="29.10" fill="#ED7D31"/>
<rect x="715.64" y="982.60" width="6.50" height="31.40" fill="#5B9BD5"/>
<rect x="722.14" y="979.20" width="6.50" height="34.80" fill="#ED7D31"/>
<rect x="730.75" y="978.80" width="6.50" height="35.20" fill="#5B9BD5"/>
<rect x="737.25" y="974.10" width="6.50" height="39.90" fill="#ED7D31"/>
<rect x="745.86" y="971.90" width="6.50" height="42.10" fill="#5B9BD5"/>
<rect x="752.36" y="965.80" width="6.50" height="48.20" fill="#ED7D31"/>
<rect x="760.97" y="964.60" width="6.50" height="49.40" fill="#5B9BD5"/>
<rect x="767.47" y="958.50" width="6.50" height="55.50" fill="#ED7D31"/>
<rect x="776.09" y="957.90" width="6.50" height="56.10" fill="#5B9BD5"/>
<rect x="782.59" y="950.60" width="6.50" height="63.40" fill="#ED7D31"/>
<rect x="791.20" y="950.10" width="6.50" height="63.90" fill="#5B9BD5"/>
<rect x="797.70" y="940.70" width="6.50" height="73.30" fill="#ED7D31"/>
<rect x="806.31" y="943.80" width="6.50" height="70.20" fill="#5B9BD5"/>
<rect x="812.81" y="931.80" width="6.50" height="82.20" fill="#ED7D31"/>
<rect x="821.42" y="934.40" width="6.50" height="79.60" fill="#5B9BD5"/>
<rect x="827.92" y="920.00" width="6.50" height="94.00" fill="#ED7D31"/>
<rect x="836.54" y="923.80" width="6.50" height="90.20" fill="#5B9BD5"/>
<rect x="843.04" y="907.60" width="6.50" height="106.40" fill="#ED7D31"/>
<rect x="851.65" y="914.70" width="6.50" height="99.30" fill="#5B9BD5"/>
<rect x="858.15" y="896.20" width="6.50" height="117.80" fill="#ED7D31"/>
<rect x="866.76" y="906.10" width="6.50" height="107.90" fill="#5B9BD5"/>
<rect x="873.26" y="884.80" width="6.50" height="129.20" fill="#ED7D31"/>
<rect x="881.88" y="896.30" width="6.50" height="117.70" fill="#5B9BD5"/>
<rect x="888.38" y="870.40" width="6.50" height="143.60" fill="#ED7D31"/>
<rect x="896.99" y="886.00" width="6.50" height="128.00" fill="#5B9BD5"/>
<rect x="903.49" y="856.20" width="6.50" height="157.80" fill="#ED7D31"/>
<rect x="912.10" y="875.70" width="6.50" height="138.30" fill="#5B9BD5"/>
<rect x="918.60" y="841.40" width="6.50" height="172.60" fill="#ED7D31"/>
<rect x="927.21" y="864.40" width="6.50" height="149.60" fill="#5B9BD5"/>
<rect x="933.71" y="824.60" width="6.50" height="189.40" fill="#ED7D31"/>
<rect x="942.32" y="852.10" width="6.50" height="161.90" fill="#5B9BD5"/>
<rect x="948.82" y="809.90" width="6.50" height="204.10" fill="#ED7D31"/>
<rect x="957.44" y="842.30" width="6.50" height="171.70" fill="#5B9BD5"/>
<rect x="963.94" y="795.40" width="6.50" height="218.60" fill="#ED7D31"/>
<line x1="125.2" y1="781.0" x2="125.2" y2="1014.0" stroke="#D0D0D0" stroke-width="1.2"/>
<line x1="971.5" y1="781.0" x2="971.5" y2="1014.0" stroke="#D0D0D0" stroke-width="1.2"/>
<line x1="125.2" y1="1014.0" x2="971.5" y2="1014.0" stroke="#D0D0D0" stroke-width="1.2"/>
<line x1="125.2" y1="1014.00" x2="131.7" y2="1014.00" stroke="#D0D0D0" stroke-width="1.2"/>
<line x1="125.2" y1="975.17" x2="131.7" y2="975.17" stroke="#D0D0D0" stroke-width="1.2"/>
<text x="111.5" y="981.17" text-anchor="end" font-size="16.8" fill="#595959" font-family="Liberation Sans, sans-serif">200000</text>
<line x1="125.2" y1="936.33" x2="131.7" y2="936.33" stroke="#D0D0D0" stroke-width="1.2"/>
<text x="111.5" y="942.33" text-anchor="end" font-size="16.8" fill="#595959" font-family="Liberation Sans, sans-serif">400000</text>
<line x1="125.2" y1="897.50" x2="131.7" y2="897.50" stroke="#D0D0D0" stroke-width="1.2"/>
<text x="111.5" y="903.50" text-anchor="end" font-size="16.8" fill="#595959" font-family="Liberation Sans, sans-serif">600000</text>
<line x1="125.2" y1="858.67" x2="131.7" y2="858.67" stroke="#D0D0D0" stroke-width="1.2"/>
<text x="111.5" y="864.67" text-anchor="end" font-size="16.8" fill="#595959" font-family="Liberation Sans, sans-serif">800000</text>
<line x1="125.2" y1="819.83" x2="131.7" y2="819.83" stroke="#D0D0D0" stroke-width="1.2"/>
<text x="111.5" y="825.83" text-anchor="end" font-size="16.8" fill="#595959" font-family="Liberation Sans, sans-serif">1000000</text>
<line x1="125.2" y1="781.00" x2="131.7" y2="781.00" stroke="#D0D0D0" stroke-width="1.2"/>
<text x="111.5" y="787.00" text-anchor="end" font-size="16.8" fill="#595959" font-family="Liberation Sans, sans-serif">1200000</text>
<line x1="965.0" y1="1014.00" x2="971.5" y2="1014.00" stroke="#D0D0D0" stroke-width="1.2"/>
<line x1="965.0" y1="967.40" x2="971.5" y2="967.40" stroke="#D0D0D0" stroke-width="1.2"/>
<text x="984" y="973.40" font-size="16.8" fill="#595959" font-family="Liberation Sans, sans-serif">50</text>
<line x1="965.0" y1="920.80" x2="971.5" y2="920.80" stroke="#D0D0D0" stroke-width="1.2"/>
<text x="984" y="926.80" font-size="16.8" fill="#595959" font-family="Liberation Sans, sans-serif">100</text>
<line x1="965.0" y1="874.20" x2="971.5" y2="874.20" stroke="#D0D0D0" stroke-width="1.2"/>
<text x="984" y="880.20" font-size="16.8" fill="#595959" font-family="Liberation Sans, sans-serif">150</text>
<line x1="965.0" y1="827.60" x2="971.5" y2="827.60" stroke="#D0D0D0" stroke-width="1.2"/>
<text x="984" y="833.60" font-size="16.8" fill="#595959" font-family="Liberation Sans, sans-serif">200</text>
<line x1="965.0" y1="781.00" x2="971.5" y2="781.00" stroke="#D0D0D0" stroke-width="1.2"/>
<text x="984" y="787.00" font-size="16.8" fill="#595959" font-family="Liberation Sans, sans-serif">250</text>
<line x1="125.20" y1="1014.0" x2="125.20" y2="1022.0" stroke="#D0D0D0" stroke-width="1.2"/>
<line x1="155.43" y1="1014.0" x2="155.43" y2="1022.0" stroke="#D0D0D0" stroke-width="1.2"/>
<line x1="185.65" y1="1014.0" x2="185.65" y2="1022.0" stroke="#D0D0D0" stroke-width="1.2"/>
<line x1="215.88" y1="1014.0" x2="215.88" y2="1022.0" stroke="#D0D0D0" stroke-width="1.2"/>
<line x1="246.10" y1="1014.0" x2="246.10" y2="1022.0" stroke="#D0D0D0" stroke-width="1.2"/>
<line x1="276.32" y1="1014.0" x2="276.32" y2="1022.0" stroke="#D0D0D0" stroke-width="1.2"/>
<line x1="306.55" y1="1014.0" x2="306.55" y2="1022.0" stroke="#D0D0D0" stroke-width="1.2"/>
<line x1="336.77" y1="1014.0" x2="336.77" y2="1022.0" stroke="#D0D0D0" stroke-width="1.2"/>
<line x1="367.00" y1="1014.0" x2="367.00" y2="1022.0" stroke="#D0D0D0" stroke-width="1.2"/>
<line x1="397.22" y1="1014.0" x2="397.22" y2="1022.0" stroke="#D0D0D0" stroke-width="1.2"/>
<line x1="427.45" y1="1014.0" x2="427.45" y2="1022.0" stroke="#D0D0D0" stroke-width="1.2"/>
<line x1="457.67" y1="1014.0" x2="457.67" y2="1022.0" stroke="#D0D0D0" stroke-width="1.2"/>
<line x1="487.90" y1="1014.0" x2="487.90" y2="1022.0" stroke="#D0D0D0" stroke-width="1.2"/>
<line x1="518.12" y1="1014.0" x2="518.12" y2="1022.0" stroke="#D0D0D0" stroke-width="1.2"/>
<line x1="548.35" y1="1014.0" x2="548.35" y2="1022.0" stroke="#D0D0D0" stroke-width="1.2"/>
<line x1="578.57" y1="1014.0" x2="578.57" y2="1022.0" stroke="#D0D0D0" stroke-width="1.2"/>
<line x1="608.80" y1="1014.0" x2="608.80" y2="1022.0" stroke="#D0D0D0" stroke-width="1.2"/>
<line x1="639.02" y1="1014.0" x2="639.02" y2="1022.0" stroke="#D0D0D0" stroke-width="1.2"/>
<line x1="669.25" y1="1014.0" x2="669.25" y2="1022.0" stroke="#D0D0D0" stroke-width="1.2"/>
<line x1="699.48" y1="1014.0" x2="699.48" y2="1022.0" stroke="#D0D0D0" stroke-width="1.2"/>
<line x1="729.70" y1="1014.0" x2="729.70" y2="1022.0" stroke="#D0D0D0" stroke-width="1.2"/>
<line x1="759.92" y1="1014.0" x2="759.92" y2="1022.0" stroke="#D0D0D0" stroke-width="1.2"/>
<line x1="790.15" y1="1014.0" x2="790.15" y2="1022.0" stroke="#D0D0D0" stroke-width="1.2"/>
<line x1="820.38" y1="1014.0" x2="820.38" y2="1022.0" stroke="#D0D0D0" stroke-width="1.2"/>
<line x1="850.60" y1="1014.0" x2="850.60" y2="1022.0" stroke="#D0D0D0" stroke-width="1.2"/>
<line x1="880.83" y1="1014.0" x2="880.83" y2="1022.0" stroke="#D0D0D0" stroke-width="1.2"/>
<line x1="911.05" y1="1014.0" x2="911.05" y2="1022.0" stroke="#D0D0D0" stroke-width="1.2"/>
<line x1="941.27" y1="1014.0" x2="941.27" y2="1022.0" stroke="#D0D0D0" stroke-width="1.2"/>
<line x1="971.50" y1="1014.0" x2="971.50" y2="1022.0" stroke="#D0D0D0" stroke-width="1.2"/>
<text transform="translate(138.46,1025.8) rotate(-90)" text-anchor="end" font-size="16.8" fill="#6A6A6A" font-family="Liberation Serif, serif">2月10日</text>
<text transform="translate(168.68,1025.8) rotate(-90)" text-anchor="end" font-size="16.8" fill="#6A6A6A" font-family="Liberation Serif, serif">2月12日</text>
<text transform="translate(198.91,1025.8) rotate(-90)" text-anchor="end" font-size="16.8" fill="#6A6A6A" font-family="Liberation Serif, serif">2月14日</text>
<text transform="translate(229.13,1025.8) rotate(-90)" text-anchor="end" font-size="16.8" fill="#6A6A6A" font-family="Liberation Serif, serif">2月16日</text>
<text transform="translate(259.36,1025.8) rotate(-90)" text-anchor="end" font-size="16.8" fill="#6A6A6A" font-family="Liberation Serif, serif">2月18日</text>
<text transform="translate(289.58,1025.8) rotate(-90)" text-anchor="end" font-size="16.8" fill="#6A6A6A" font-family="Liberation Serif, serif">2月20日</text>
<text transform="translate(319.81,1025.8) rotate(-90)" text-anchor="end" font-size="16.8" fill="#6A6A6A" font-family="Liberation Serif, serif">2月22日</text>
<text transform="translate(350.03,1025.8) rotate(-90)" text-anchor="end" font-size="16.8" fill="#6A6A6A" font-family="Liberation Serif, serif">2月24日</text>
<text transform="translate(380.26,1025.8) rotate(-90)" text-anchor="end" font-size="16.8" fill="#6A6A6A" font-family="Liberation Serif, serif">2月26日</text>
<text transform="translate(410.48,1025.8) rotate(-90)" text-anchor="end" font-size="16.8" fill="#6A6A6A" font-family="Liberation Serif, serif">2月28日</text>
<text transform="translate(440.71,1025.8) rotate(-90)" text-anchor="end" font-size="16.8" fill="#6A6A6A" font-family="Liberation Serif, serif">3月1日</text>
<text transform="translate(470.93,1025.8) rotate(-90)" text-anchor="end" font-size="16.8" fill="#6A6A6A" font-family="Liberation Serif, serif">3月3日</text>
<text transform="translate(501.16,1025.8) rotate(-90)" text-anchor="end" font-size="16.8" fill="#6A6A6A" font-family="Liberation Serif, serif">3月5日</text>
<text transform="translate(531.38,1025.8) rotate(-90)" text-anchor="end" font-size="16.8" fill="#6A6A6A" font-family="Liberation Serif, serif">3月7日</text>
<text transform="translate(561.61,1025.8) rotate(-90)" text-anchor="end" font-size="16.8" fill="#6A6A6A" font-family="Liberation Serif, serif">3月9日</text>
<text transform="translate(591.83,1025.8) rotate(-90)" text-anchor="end" font-size="16.8" fill="#6A6A6A" font-family="Liberation Serif, serif">3月11日</text>
<text transform="translate(622.06,1025.8) rotate(-90)" text-anchor="end" font-size="16.8" fill="#6A6A6A" font-family="Liberation Serif, serif">3月13日</text>
<text transform="translate(652.28,1025.8) rotate(-90)" text-anchor="end" font-size="16.8" fill="#6A6A6A" font-family="Liberation Serif, serif">3月15日</text>
<text transform="translate(682.51,1025.8) rotate(-90)" text-anchor="end" font-size="16.8" fill="#6A6A6A" font-family="Liberation Serif, serif">3月17日</text>
<text transform="translate(712.73,1025.8) rotate(-90)" text-anchor="end" font-size="16.8" fill="#6A6A6A" font-family="Liberation Serif, serif">3月19日</text>
<text transform="translate(742.96,1025.8) rotate(-90)" text-anchor="end" font-size="16.8" fill="#6A6A6A" font-family="Liberation Serif, serif">3月21日</text>
<text transform="translate(773.18,1025.8) rotate(-90)" text-anchor="end" font-size="16.8" fill="#6A6A6A" font-family="Liberation Serif, serif">3月23日</text>
<text transform="translate(803.41,1025.8) rotate(-90)" text-anchor="end" font-size="16.8" fill="#6A6A6A" font-family="Liberation Serif, serif">3月25日</text>
<text transform="translate(833.63,1025.8) rotate(-90)" text-anchor="end" font-size="16.8" fill="#6A6A6A" font-family="Liberation Serif, serif">3月27日</text>
<text transform="translate(863.86,1025.8) rotate(-90)" text-anchor="end" font-size="16.8" fill="#6A6A6A" font-family="Liberation Serif, serif">3月29日</text>
<text transform="translate(894.08,1025.8) rotate(-90)" text-anchor="end" font-size="16.8" fill="#6A6A6A" font-family="Liberation Serif, serif">3月31日</text>
<text transform="translate(924.31,1025.8) rotate(-90)" text-anchor="end" font-size="16.8" fill="#6A6A6A" font-family="Liberation Serif, serif">4月2日</text>
<text transform="translate(954.53,1025.8) rotate(-90)" text-anchor="end" font-size="16.8" fill="#6A6A6A" font-family="Liberation Serif, serif">4月4日</text>
<polyline points="132.76,991.63 147.87,991.63 162.98,991.63 178.09,991.63 193.21,990.70 208.32,990.70 223.43,990.70 238.54,990.70 253.66,990.70 268.77,990.23 283.88,989.77 298.99,988.84 314.11,987.90 329.22,987.44 344.33,984.18 359.44,979.98 374.56,972.06 389.67,966.47 404.78,964.14 419.89,959.94 435.01,954.82 450.12,947.83 465.23,943.17 480.34,935.71 495.46,931.52 510.57,926.86 525.68,918.94 540.79,916.14 555.91,910.55 571.02,906.82 586.13,904.02 601.24,899.36 616.36,888.18 631.47,877.93 646.58,871.40 661.69,864.88 676.81,863.95 691.92,858.36 707.03,850.90 722.14,845.31 737.26,841.58 752.37,838.78 767.48,835.99 782.59,834.12 797.71,831.33 812.82,829.93 827.93,829.46 843.04,829.00 858.16,829.00 873.27,829.00 888.38,825.74 903.49,825.74 918.61,824.80 933.72,823.87 948.83,822.94 963.94,822.01" fill="none" stroke="#A5A5A5" stroke-width="3.2" stroke-linejoin="round" stroke-linecap="round"/>
<rect x="198.5" y="805.6" width="44.8" height="14.4" fill="#5B9BD5"/>
<rect x="199" y="835.6" width="43" height="11.7" fill="#ED7D31"/>
<line x1="199" y1="869" x2="243" y2="869" stroke="#A5A5A5" stroke-width="3.2"/>
<text x="248" y="820" font-size="18.8" fill="#7F7F7F" font-family="Liberation Sans, sans-serif">现有确诊</text>
<text x="248" y="848" font-size="18.8" fill="#7F7F7F" font-family="Liberation Sans, sans-serif">累计确诊</text>
<text x="248" y="876" font-size="18.8" fill="#7F7F7F" font-family="Liberation Sans, sans-serif">涉及国家和地区数量</text>
<text x="548.5" y="767" text-anchor="middle" font-size="21.5" letter-spacing="3.2" fill="#262626" font-family="Liberation Serif, serif">海外疫情涉及国家和地区数及确诊情况</text>
<text x="70" y="1045.0" text-anchor="middle" font-size="20" fill="#595959" font-family="Liberation Serif, serif">确</text>
<text x="70" y="1065.5" text-anchor="middle" font-size="20" fill="#595959" font-family="Liberation Serif, serif">诊</text>
<text x="70" y="1086.0" text-anchor="middle" font-size="20" fill="#595959" font-family="Liberation Serif, serif">数</text>
<text x="1018" y="866.0" text-anchor="middle" font-size="20.5" fill="#7F7F7F" font-family="Liberation Sans, sans-serif">涉</text>
<text x="1018" y="886.6" text-anchor="middle" font-size="20.5" fill="#7F7F7F" font-family="Liberation Sans, sans-serif">及</text>
<text x="1018" y="907.2" text-anchor="middle" font-size="20.5" fill="#7F7F7F" font-family="Liberation Sans, sans-serif">国</text>
<text x="1018" y="927.8" text-anchor="middle" font-size="20.5" fill="#7F7F7F" font-family="Liberation Sans, sans-serif">家</text>
<text x="1018" y="948.4" text-anchor="middle" font-size="20.5" fill="#7F7F7F" font-family="Liberation Sans, sans-serif">和</text>
<text x="1018" y="969.0" text-anchor="middle" font-size="20.5" fill="#7F7F7F" font-family="Liberation Sans, sans-serif">地</text>
<text x="1018" y="989.6" text-anchor="middle" font-size="20.5" fill="#7F7F7F" font-family="Liberation Sans, sans-serif">区</text>
<text x="1018" y="1010.2" text-anchor="middle" font-size="20.5" fill="#7F7F7F" font-family="Liberation Sans, sans-serif">数</text>
</svg>
</body></html>
